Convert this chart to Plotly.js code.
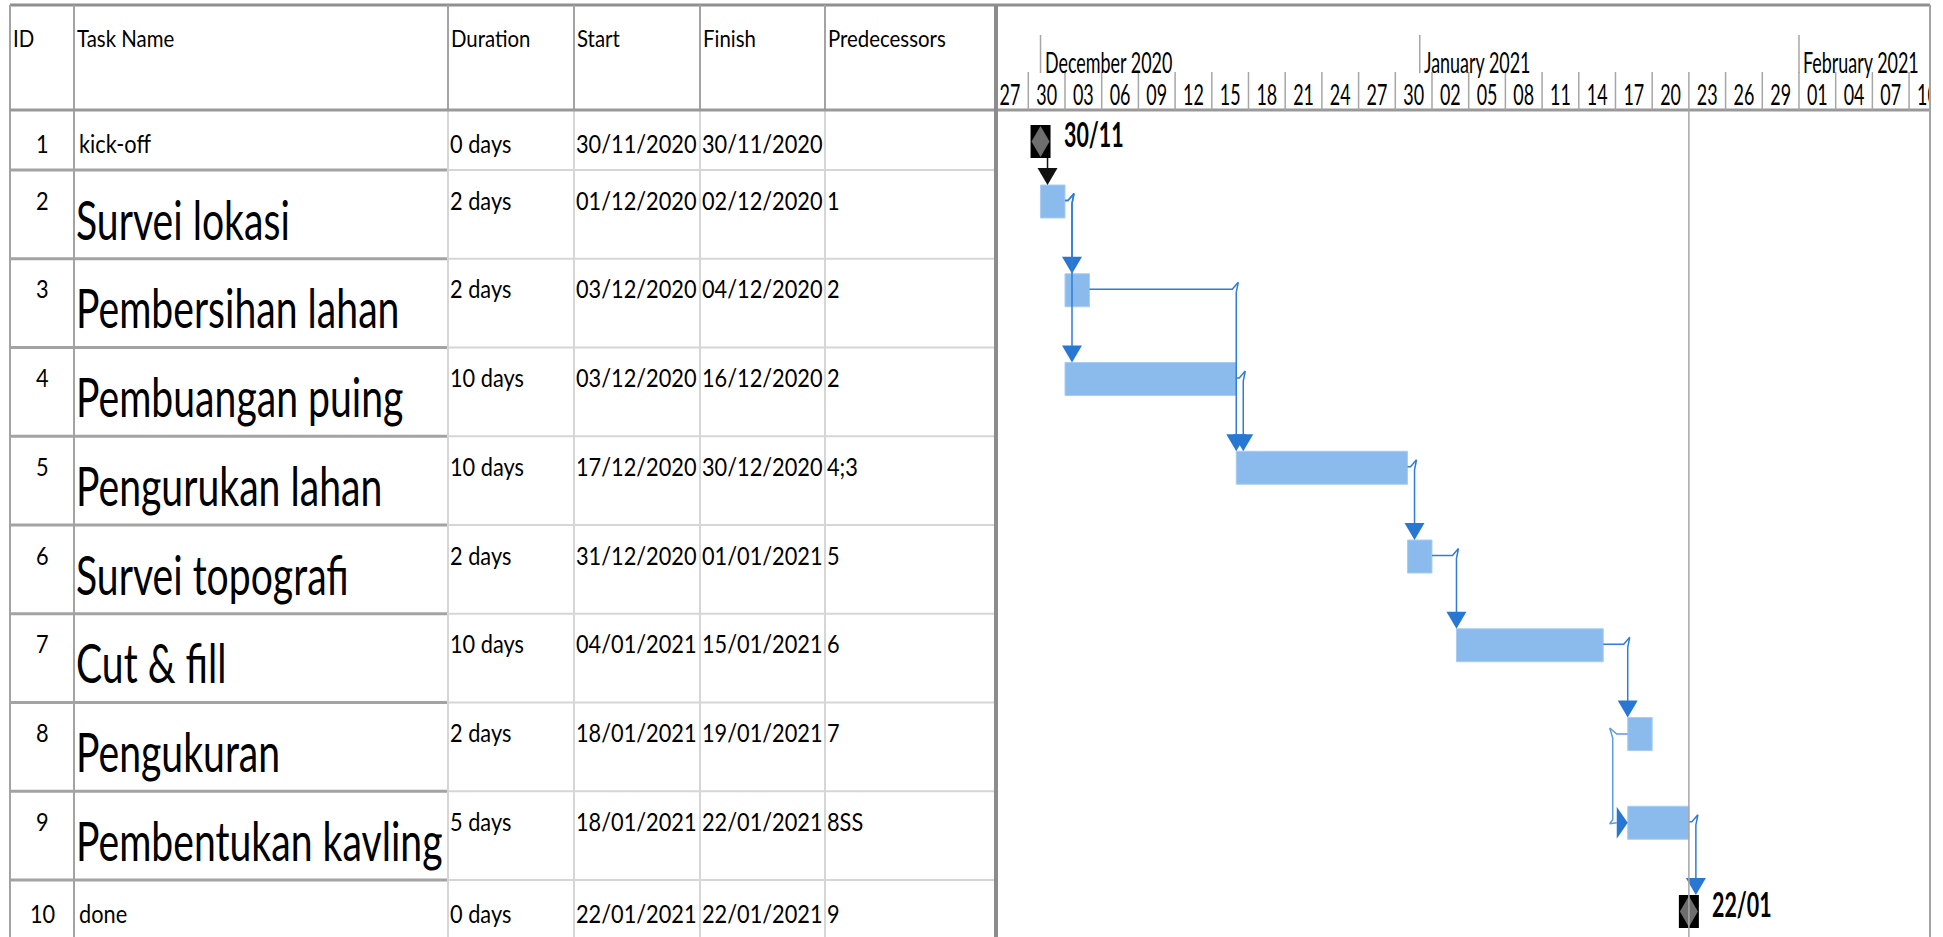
<!DOCTYPE html>
<html><head><meta charset="utf-8">
<script src="https://cdn.plot.ly/plotly-3.0.1.min.js"></script>
<style>html,body{margin:0;padding:0;background:#fff;overflow:hidden}#chart{width:1943px;height:937px}</style>
</head><body><div id="chart"></div>
<script>
// ---------------- data ----------------
const ids = [1,2,3,4,5,6,7,8,9,10];
const taskNames = ['kick-off','Survei lokasi','Pembersihan lahan','Pembuangan puing','Pengurukan lahan','Survei topografi','Cut & fill','Pengukuran','Pembentukan kavling','done'];
const durations = ['0 days','2 days','2 days','10 days','10 days','2 days','10 days','2 days','5 days','0 days'];
const startDates = ['30/11/2020','01/12/2020','03/12/2020','03/12/2020','17/12/2020','31/12/2020','04/01/2021','18/01/2021','18/01/2021','22/01/2021'];
const finishDates = ['30/11/2020','02/12/2020','04/12/2020','16/12/2020','30/12/2020','01/01/2021','15/01/2021','19/01/2021','22/01/2021','22/01/2021'];
const predecessors = ['','1','2','2','4;3','5','6','7','8SS','9'];
const headerLabels = ['ID','Task Name','Duration','Start','Finish','Predecessors'];
const tickDates = ['2020-11-27','2020-11-30','2020-12-03','2020-12-06','2020-12-09','2020-12-12','2020-12-15','2020-12-18','2020-12-21','2020-12-24','2020-12-27','2020-12-30','2021-01-02','2021-01-05','2021-01-08','2021-01-11','2021-01-14','2021-01-17','2021-01-20','2021-01-23','2021-01-26','2021-01-29','2021-02-01','2021-02-04','2021-02-07','2021-02-10'];
const tickLabels = ['27','30','03','06','09','12','15','18','21','24','27','30','02','05','08','11','14','17','20','23','26','29','01','04','07','10'];
const monthStarts = ['2020-12-01','2021-01-01','2021-02-01'];
const monthLabels = ['December 2020','January 2021','February 2021'];
const finishLineDate = '2021-01-23';

// ---------------- layout constants ----------------
const W = 1943, H = 937;
const DAY = 86400000;
const TABLE_LEFT = 10, TABLE_RIGHT = 995, GANTT_RIGHT = 1930;
const colLeft = [10, 74, 448, 574, 700, 825];
const HEADER_TOP = 5, HEADER_BOTTOM = 110;
const MS_ROW_H = 60, TASK_ROW_H = 88.75;
const BAR_OFF = 15, BAR_H = 33;
const ORIGIN_MS = Date.UTC(2020, 10, 30), ORIGIN_PX = 1028.3, PX_PER_DAY = 12.233;
const MS_PER_PX = DAY / PX_PER_DAY;
const FONT = 'Lato, "Open Sans", "DejaVu Sans", sans-serif';
const BLUE_LINE = '#2F7DD5', BLUE_HEAD = '#2878D3', BAR_FILL = '#8ABBEC';
const DARK_GRID = '#a3a3a3', LIGHT_GRID = '#d6d6d6';
const F_HEAD = 24, F_CELL = 25, F_SCALE = 28, F_MS = 34, F_BIG = 54;

function parseDMY(s){ const [d,m,y] = s.split('/').map(Number); return Date.UTC(y, m-1, d); }
function isoMs(s){ const [y,m,d] = s.split('-').map(Number); return Date.UTC(y, m-1, d); }
function fmt(ms){ return new Date(ms).toISOString().slice(0,23).replace('T',' '); }
function px(n){ return n * MS_PER_PX; }

const isMs = durations.map(d => parseFloat(d) === 0);
const rowTop = []; { let y = HEADER_BOTTOM; isMs.forEach(m => { rowTop.push(y); y += m ? MS_ROW_H : TASK_ROW_H; }); }
const startMs = startDates.map(parseDMY);
const endMs = finishDates.map(s => parseDMY(s) + DAY);
const barTop = i => rowTop[i] + BAR_OFF;
const barMid = i => rowTop[i] + BAR_OFF + BAR_H/2;

const traces = [];
function poly(pts, color){
  traces.push({type:'scatter', mode:'lines', xaxis:'x', yaxis:'y',
    x: pts.map(p => fmt(p[0])).concat([fmt(pts[0][0])]), y: pts.map(p => p[1]).concat([pts[0][1]]),
    fill:'toself', fillcolor:color, line:{width:0, color:color}, hoverinfo:'skip', showlegend:false});
}
function polyline(pts, color, w){
  traces.push({type:'scatter', mode:'lines', xaxis:'x', yaxis:'y',
    x: pts.map(p => fmt(p[0])), y: pts.map(p => p[1]), line:{color:color, width:w}, hoverinfo:'skip', showlegend:false});
}

// bars
const taskIdx = ids.map((_, i) => i).filter(i => !isMs[i]);
traces.push({type:'bar', orientation:'h', xaxis:'x', yaxis:'y',
  base: taskIdx.map(i => fmt(startMs[i])), x: taskIdx.map(i => endMs[i] - startMs[i]),
  y: taskIdx.map(i => barMid(i)), width: BAR_H,
  marker:{color:BAR_FILL, line:{color:'#A8CDF2', width:1}}, hoverinfo:'skip', showlegend:false});

// milestones
ids.forEach((id, i) => {
  if (!isMs[i]) return;
  const x = endMs[i], y0 = barTop(i), y1 = y0 + BAR_H, ym = (y0 + y1)/2;
  poly([[x-px(10),y0],[x+px(10),y0],[x+px(10),y1],[x-px(10),y1]], '#000');
  poly([[x,y0+1],[x+px(9),ym],[x,y1-1],[x-px(9),ym]], '#6E6E6E');
});

// links
const links = [];
predecessors.forEach((p, i) => {
  if (!p) return;
  p.split(';').forEach(tok => {
    const m = tok.trim().match(/^(\d+)(FS|SS|FF|SF)?$/);
    if (m) links.push({from: ids.indexOf(+m[1]), to: i, type: m[2] || 'FS'});
  });
});
links.forEach(l => {
  const f = l.from, t = l.to;
  if (l.type === 'SS') {
    const ps = startMs[f], ss = startMs[t];
    const xv = Math.min(ps, ss) - px(15);
    const y1 = barMid(f), y2 = barMid(t);
    polyline([[ps,y1],[xv+px(4),y1],[xv-px(3),y1-6],[xv,y1+4],[xv,y2-3],[xv-px(3),y2+1],[ss-px(11),y2]], '#5D9BE0', 1.5);
    poly([[ss-px(11),y2-16],[ss,y2],[ss-px(11),y2+16]], BLUE_HEAD);
    return;
  }
  const succStart = isMs[t] ? endMs[t] : startMs[t];
  const targetTop = barTop(t);
  if (isMs[f]) {
    const xv = Math.max(succStart, endMs[f] + px(7));
    polyline([[xv, barTop(f) + BAR_H],[xv, targetTop - 15]], '#111', 1.5);
    poly([[xv-px(10),targetTop-17],[xv+px(10),targetTop-17],[xv,targetTop]], '#111');
  } else {
    const pe = endMs[f], ym = barMid(f) - 1;
    const xv = Math.max(succStart, pe + px(7));
    polyline([[pe,ym],[xv-px(4),ym],[xv+px(2),ym-7],[xv,ym+3],[xv,targetTop-15]], BLUE_LINE, 1.5);
    poly([[xv-px(10),targetTop-17],[xv+px(10),targetTop-17],[xv,targetTop]], BLUE_HEAD);
  }
});

// timescale day labels (clipped to the gantt area)
traces.push({type:'scatter', mode:'text', xaxis:'x', yaxis:'y',
  x: tickDates.map((d, k) => { const a = isoMs(d); const b = k < tickDates.length-1 ? isoMs(tickDates[k+1]) : a + (a - isoMs(tickDates[k-1])); return fmt((a+b)/2); }),
  y: tickDates.map(() => 98), text: tickLabels, textposition:'middle center',
  textfont:{family:FONT, size:F_SCALE, color:'#000'}, cliponaxis:true, hoverinfo:'skip', showlegend:false});

// ---------------- shapes ----------------
const shapes = [];
function hline(xref, x0, x1, y, color, w){ shapes.push({type:'line', xref:xref, yref:'y', x0:x0, x1:x1, y0:y, y1:y, line:{color:color, width:w}}); }
function vline(xref, x, y0, y1, color, w){ shapes.push({type:'line', xref:xref, yref:'y', x0:x, x1:x, y0:y0, y1:y1, line:{color:color, width:w}}); }

hline('paper', TABLE_LEFT/W, GANTT_RIGHT/W, HEADER_TOP, '#8f8f8f', 3);
colLeft.forEach((x, c) => vline('x2', x, HEADER_TOP, HEADER_BOTTOM, DARK_GRID, 2));
rowTop.forEach((y, i) => {
  if (i === 0) return;
  hline('x2', colLeft[0], colLeft[2], y, DARK_GRID, 3);
  hline('x2', colLeft[2], TABLE_RIGHT, y, LIGHT_GRID, 2);
});
colLeft.forEach((x, c) => vline('x2', x, HEADER_BOTTOM, H, c <= 1 ? DARK_GRID : LIGHT_GRID, 2));
hline('paper', TABLE_LEFT/W, GANTT_RIGHT/W, HEADER_BOTTOM, '#999999', 3);
vline('paper', (TABLE_RIGHT+1)/W, HEADER_TOP, H, '#8c8c8c', 4);
vline('paper', GANTT_RIGHT/W, HEADER_TOP, H, DARK_GRID, 2);
monthStarts.forEach(d => vline('x', d, 35, 73, '#a6a6a6', 1.5));
tickDates.forEach(d => vline('x', d, 72, HEADER_BOTTOM, '#a6a6a6', 1.5));
vline('x', finishLineDate, HEADER_BOTTOM, H, '#a6a6a6', 1.5);

// ---------------- annotations ----------------
const ann = [];
function txt(xref, x, y, text, size, xanchor, opts){
  ann.push(Object.assign({xref:xref, yref:'y', x:x, y:y, text:text, showarrow:false,
    xanchor:xanchor, align:xanchor === 'center' ? 'center' : 'left', yanchor:'middle',
    borderpad:0, borderwidth:0, font:{family:FONT, size:size, color:'#000'}}, opts || {}));
}
headerLabels.forEach((h, c) => txt('x2', colLeft[c] + 3, 37, h, F_HEAD, 'left'));
ids.forEach((id, i) => {
  const ys = rowTop[i] + (isMs[i] ? 32.5 : 29.5);
  txt('x2', (colLeft[0] + colLeft[1])/2, ys, String(id), F_CELL, 'center');
  if (isMs[i]) txt('x2', colLeft[1] + 5, ys, taskNames[i], F_CELL, 'left');
  else txt('x2', colLeft[1] + 2, rowTop[i] + 49, taskNames[i], F_BIG, 'left');
  txt('x2', colLeft[2] + 2, ys, durations[i], F_CELL, 'left');
  txt('x2', colLeft[3] + 2, ys, startDates[i], F_CELL, 'left');
  txt('x2', colLeft[4] + 2, ys, finishDates[i], F_CELL, 'left');
  if (predecessors[i]) txt('x2', colLeft[5] + 2, ys, predecessors[i], F_CELL, 'left');
  if (isMs[i]) txt('x', fmt(endMs[i] + px(23)), rowTop[i] + 23, finishDates[i].slice(0,5), F_MS, 'left', {font:{family:FONT, size:F_MS, color:'#000', weight:'bold'}});
});
monthStarts.forEach((d, k) => txt('x', fmt(isoMs(d) + px(4)), 62, monthLabels[k], F_SCALE, 'left'));

const layout = {
  width:W, height:H, margin:{l:0, r:0, t:0, b:0, pad:0}, autosize:false,
  paper_bgcolor:'#fff', plot_bgcolor:'rgba(0,0,0,0)', showlegend:false,
  font:{family:FONT, color:'#000'},
  xaxis:{type:'date', domain:[TABLE_RIGHT/W, GANTT_RIGHT/W], range:[fmt(ORIGIN_MS - (ORIGIN_PX-TABLE_RIGHT)*MS_PER_PX), fmt(ORIGIN_MS + (GANTT_RIGHT-ORIGIN_PX)*MS_PER_PX)], visible:false, anchor:'y', fixedrange:true},
  xaxis2:{type:'linear', domain:[0, TABLE_RIGHT/W], range:[0, TABLE_RIGHT], visible:false, anchor:'y', fixedrange:true},
  yaxis:{type:'linear', domain:[0,1], range:[H, 0], visible:false, anchor:'x', fixedrange:true},
  bargap:0, shapes:shapes, annotations:ann
};

// horizontal condensing of the text (the reference face is a narrow one)
const SQUEEZE = {}; SQUEEZE[F_HEAD] = 0.85; SQUEEZE[F_CELL] = 0.87; SQUEEZE[F_SCALE] = 0.64; SQUEEZE[F_MS] = 0.63; SQUEEZE[F_BIG] = 0.725;
function squeeze(gd){
  gd.querySelectorAll('text').forEach(t => {
    const s = SQUEEZE[Math.round(parseFloat(t.style.fontSize))];
    if (!s || t.getAttribute('data-sq')) return;
    const w = t.getComputedTextLength();
    if (!(w > 0)) return;
    const nw = w * s, cut = w - nw;
    t.setAttribute('textLength', nw.toFixed(2));
    t.setAttribute('lengthAdjust', 'spacingAndGlyphs');
    t.setAttribute('data-sq', '1');
    const bg = t.parentNode && t.parentNode.querySelector('rect.bg');
    if (bg) {
      const bw = parseFloat(bg.getAttribute('width')) || 0;
      const bx = parseFloat(bg.getAttribute('x')) || 0;
      const anchor = t.getAttribute('text-anchor');
      bg.setAttribute('width', Math.max(0, bw - cut).toFixed(2));
      if (anchor === 'middle') bg.setAttribute('x', (bx + cut/2).toFixed(2));
      else if (anchor === 'end') bg.setAttribute('x', (bx + cut).toFixed(2));
    }
  });
}
const gd = document.getElementById('chart');
Plotly.newPlot(gd, traces, layout, {staticPlot:true, displayModeBar:false, responsive:false}).then(squeeze);
</script>
</body></html>
